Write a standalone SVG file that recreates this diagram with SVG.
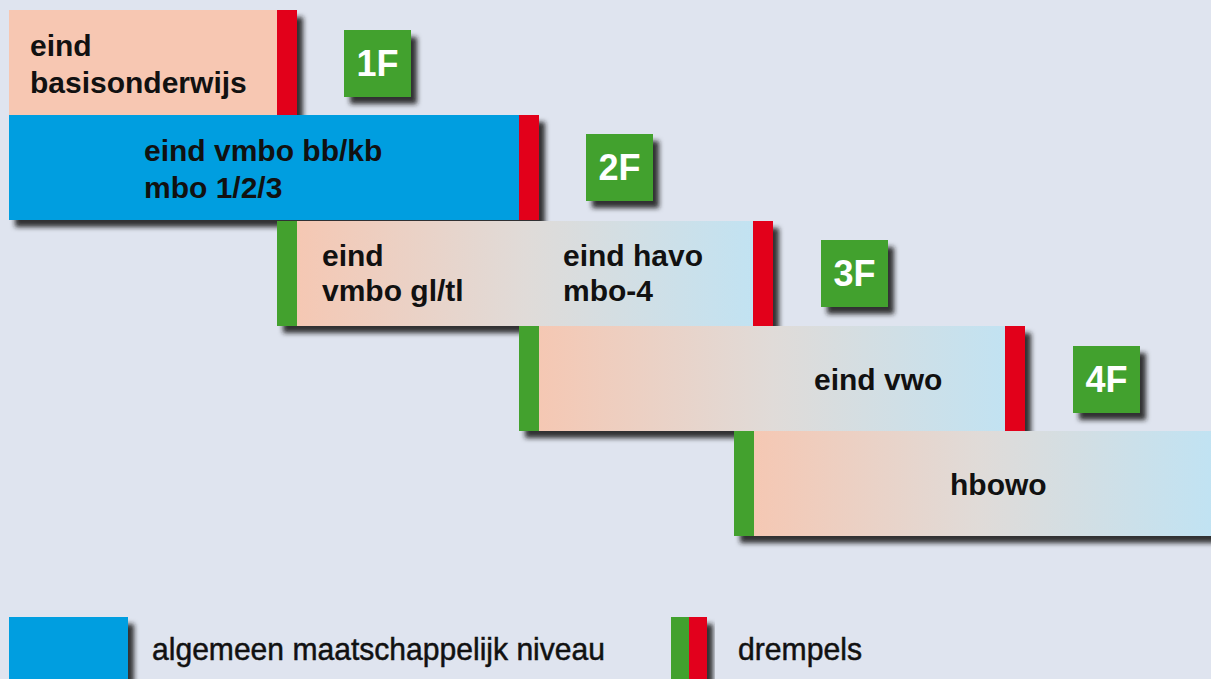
<svg xmlns="http://www.w3.org/2000/svg" width="1211" height="679" viewBox="0 0 1211 679">
<defs>
<filter id="sh" x="-10%" y="-20%" width="130%" height="150%">
<feDropShadow dx="6" dy="7" stdDeviation="2.5" flood-color="#1a1a1a" flood-opacity="0.9"/>
</filter>
<linearGradient id="g3" x1="0" y1="0" x2="1" y2="0">
<stop offset="0" stop-color="#f7c6b0"/>
<stop offset="0.5" stop-color="#e0dbd8"/>
<stop offset="1" stop-color="#bfe3f4"/>
</linearGradient>
<style>
.lbl{font-family:"Liberation Sans",Arial,sans-serif;font-weight:bold;font-size:30px;fill:#111}
.box{fill:#43a12e}
.btx{font-family:"Liberation Sans",Arial,sans-serif;font-weight:bold;font-size:36px;fill:#fff;text-anchor:middle}
.leg{font-family:"Liberation Sans",Arial,sans-serif;font-size:32px;fill:#111;stroke:#111;stroke-width:0.5}
.red{fill:#e2001a}
.grn{fill:#43a12e}
</style>
</defs>
<rect width="1211" height="679" fill="#dfe4ef"/>
<g id="bar1">
<g filter="url(#sh)"><rect x="9" y="10" width="288" height="105" fill="#f7c7b2"/></g>
<rect class="red" x="277" y="10" width="20" height="105"/>
<text class="lbl" x="30" y="56">eind</text>
<text class="lbl" x="30" y="93">basisonderwijs</text>
</g>
<g id="box1F"><rect class="box" x="344" y="30" width="67" height="67" filter="url(#sh)"/><text class="btx" x="377.5" y="76">1F</text></g>
<g id="bar2">
<g filter="url(#sh)"><rect x="9" y="115" width="530" height="105" fill="#009ee0"/></g>
<rect class="red" x="519" y="115" width="20" height="105"/>
<text class="lbl" x="144" y="161">eind vmbo bb/kb</text>
<text class="lbl" x="144" y="198">mbo 1/2/3</text>
</g>
<g id="box2F"><rect class="box" x="586" y="134" width="67" height="67" filter="url(#sh)"/><text class="btx" x="619.5" y="180">2F</text></g>
<g id="bar3">
<g filter="url(#sh)"><rect x="277" y="221" width="496" height="105" fill="url(#g3)"/></g>
<rect class="grn" x="277" y="221" width="20" height="105"/>
<rect class="red" x="753" y="221" width="20" height="105"/>
<text class="lbl" x="322" y="266">eind</text>
<text class="lbl" x="322" y="301">vmbo gl/tl</text>
<text class="lbl" x="563" y="266">eind havo</text>
<text class="lbl" x="563" y="301">mbo-4</text>
</g>
<g id="box3F"><rect class="box" x="821" y="240" width="67" height="67" filter="url(#sh)"/><text class="btx" x="854.5" y="286">3F</text></g>
<g id="bar4">
<g filter="url(#sh)"><rect x="519" y="326" width="506" height="105" fill="url(#g3)"/></g>
<rect class="grn" x="519" y="326" width="20" height="105"/>
<rect class="red" x="1005" y="326" width="20" height="105"/>
<text class="lbl" x="814" y="390">eind vwo</text>
</g>
<g id="box4F"><rect class="box" x="1073" y="346" width="67" height="67" filter="url(#sh)"/><text class="btx" x="1106.5" y="392">4F</text></g>
<g id="bar5">
<g filter="url(#sh)"><rect x="734" y="431" width="490" height="105" fill="url(#g3)"/></g>
<rect class="grn" x="734" y="431" width="20" height="105"/>
<text class="lbl" x="950" y="495">hbowo</text>
</g>
<g id="legend">
<rect x="9" y="617" width="119" height="70" fill="#009ee0" filter="url(#sh)"/>
<text class="leg" x="152" y="660" textLength="453" lengthAdjust="spacingAndGlyphs">algemeen maatschappelijk niveau</text>
<g filter="url(#sh)"><rect class="grn" x="671" y="617" width="18" height="70"/><rect class="red" x="689" y="617" width="18" height="70"/></g>
<text class="leg" x="738" y="660" textLength="124" lengthAdjust="spacingAndGlyphs">drempels</text>
</g>
<g id="connectors"/>
</svg>
